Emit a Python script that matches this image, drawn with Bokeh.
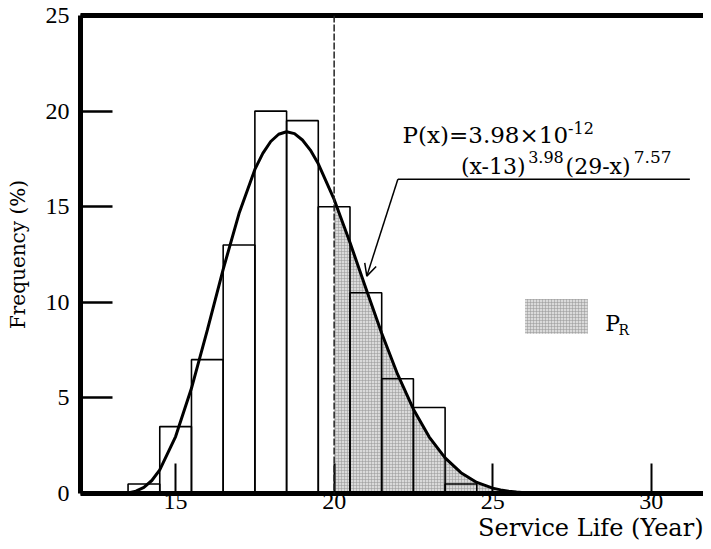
from bokeh.plotting import figure
from bokeh.models import Label, Span, Arrow, OpenHead, FixedTicker, LinearAxis, Title
from bokeh.embed import file_html
from bokeh.resources import INLINE

# ---- data ----
bin_centers = [14, 15, 16, 17, 18, 19, 20, 21, 22, 23, 24]
frequencies = [0.5, 3.5, 7.0, 13.0, 20.0, 19.5, 15.0, 10.5, 6.0, 4.5, 0.5]

curve_x = [13, 13.5, 13.75, 14, 14.25, 14.5, 15, 15.5, 16, 16.5, 17, 17.5, 17.75, 18,
           18.25, 18.5, 18.75, 19, 19.25, 19.5, 20, 20.5, 21, 21.5, 22, 22.5, 23,
           23.5, 24, 24.5, 25, 25.25, 25.5, 25.75, 26, 26.5, 27, 27.5, 28]
curve_y = [0.0, 0.03, 0.12, 0.32, 0.68, 1.24, 2.98, 5.50, 8.54, 11.72, 14.64, 16.95, 17.79, 18.41,
           18.79, 18.92, 18.82, 18.49, 17.96, 17.24, 15.38, 13.13, 10.73, 8.38, 6.24, 4.41, 2.95,
           1.86, 1.09, 0.58, 0.28, 0.19, 0.12, 0.075, 0.04, 0.01, 0.003, 0.0, 0.0]

threshold = 20
x_ticks = [15, 20, 25, 30]
y_ticks = [0, 5, 10, 15, 20, 25]

shade_x = [x for x in curve_x if x >= threshold]
shade_y = [y for x, y in zip(curve_x, curve_y) if x >= threshold]

SERIF = "DejaVu Serif"
NUM = "Liberation Serif"

p = figure(width=703, height=541, x_range=(12, 31.65), y_range=(0, 25),
           output_backend="svg", toolbar_location=None,
           min_border_left=80, min_border_right=0, min_border_top=15, min_border_bottom=0)
p.background_fill_color = "white"
p.border_fill_color = "white"
p.outline_line_color = None
p.xgrid.grid_line_color = None
p.ygrid.grid_line_color = None

hatch = dict(fill_color="#dadada", hatch_pattern="+", hatch_scale=3,
             hatch_color="#959595", hatch_weight=0.5)

# shaded reliability region under the curve
p.varea(x=shade_x, y1=[0] * len(shade_x), y2=shade_y, **hatch)

# histogram bars
p.vbar(x=bin_centers, width=1, top=frequencies, bottom=0,
       fill_alpha=0, line_color="black", line_width=1.6)

# fitted distribution curve
p.line(curve_x, curve_y, line_color="black", line_width=3)

# threshold line
p.add_layout(Span(location=threshold, dimension="height", line_color="#222222",
                  line_width=1.5, line_dash="7 2"))

# axes
for ax in (p.xaxis, p.yaxis):
    ax.axis_line_width = 5
    ax.axis_line_color = "black"
    ax.major_tick_out = 0
    ax.major_tick_line_color = "black"
    ax.minor_tick_line_color = None
    ax.major_label_text_font = NUM
    ax.major_label_text_font_size = "24px"
    ax.major_label_text_color = "black"
p.xaxis.ticker = FixedTicker(ticks=x_ticks)
p.yaxis.ticker = FixedTicker(ticks=y_ticks)
p.xaxis.major_tick_in = 30
p.yaxis.major_tick_in = 32
p.xaxis.major_tick_line_width = 2
p.yaxis.major_tick_line_width = 2.5
p.xaxis.major_label_standoff = 0
p.yaxis.major_label_standoff = 11

p.yaxis.axis_label = "Frequency (%)"
p.yaxis.axis_label_text_font = SERIF
p.yaxis.axis_label_text_font_size = "20px"
p.yaxis.axis_label_text_font_style = "normal"
p.yaxis.axis_label_text_color = "black"
p.yaxis.axis_label_standoff = 13

top_axis = LinearAxis(ticker=FixedTicker(ticks=[]), axis_line_width=5, axis_line_color="black",
                      major_tick_in=0, major_tick_out=0, minor_tick_in=0, minor_tick_out=0,
                      major_label_text_font_size="0px", major_label_standoff=0)
p.add_layout(top_axis, "above")

p.add_layout(Title(text="Service Life (Year)", align="right", text_font=SERIF,
                   text_font_size="24px", text_font_style="normal", text_color="black",
                   standoff=0), "below")

# formula annotation
p.add_layout(Label(x=22.16, y=18.77, text="P(x)=3.98×10", text_font=SERIF,
                   text_font_size="23px", text_baseline="alphabetic", text_color="black"))
p.add_layout(Label(x=27.38, y=19.1, text="-12", text_font=SERIF,
                   text_font_size="16px", text_baseline="alphabetic", text_color="black"))
p.add_layout(Label(x=24.0, y=17.1, text="(x-13)", text_font=SERIF,
                   text_font_size="22px", text_baseline="alphabetic", text_color="black"))
p.add_layout(Label(x=26.12, y=17.62, text="3.98", text_font=SERIF,
                   text_font_size="16px", text_baseline="alphabetic", text_color="black"))
p.add_layout(Label(x=27.3, y=17.1, text="(29-x)", text_font=SERIF,
                   text_font_size="22px", text_baseline="alphabetic", text_color="black"))
p.add_layout(Label(x=29.45, y=17.62, text="7.57", text_font=SERIF,
                   text_font_size="17px", text_baseline="alphabetic", text_color="black"))

# leader line and arrow to curve
p.segment(x0=[22.01], y0=[16.44], x1=[31.22], y1=[16.44], line_color="black", line_width=1.5)
p.add_layout(Arrow(x_start=22.01, y_start=16.44, x_end=21.03, y_end=11.37,
                   line_color="black", line_width=1.5,
                   end=OpenHead(size=12, line_width=1.5, line_color="black")))

# legend for P_R
p.quad(left=[26.02], right=[28.0], bottom=[8.35], top=[10.17], line_color=None, **hatch)
p.add_layout(Label(x=28.55, y=8.87, text="P", text_font=SERIF, text_font_size="22px",
                   text_baseline="alphabetic", text_color="black"))
p.add_layout(Label(x=28.97, y=8.56, text="R", text_font=SERIF, text_font_size="14px",
                   text_baseline="alphabetic", text_color="black"))

open("out.html", "w").write(file_html(p, INLINE))
